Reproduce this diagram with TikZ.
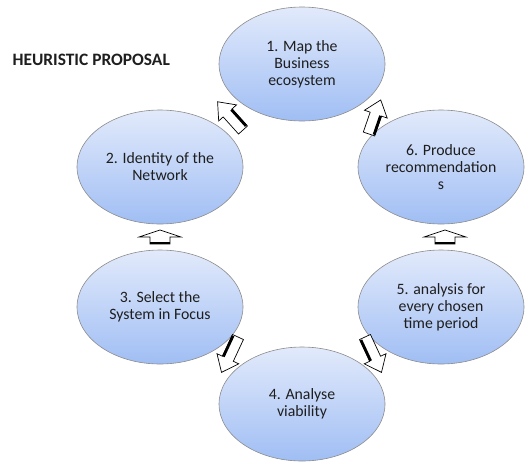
\documentclass[tikz,border=0pt]{standalone}
\usepackage{fontspec}
\setmainfont{Carlito}
\usetikzlibrary{shapes.geometric}
\definecolor{ellTop}{RGB}{226,234,251}
\definecolor{ellBot}{RGB}{160,190,244}
\definecolor{ellLine}{RGB}{140,140,140}
\definecolor{txt}{RGB}{30,30,30}
\tikzset{
  stage/.style={ellipse, draw=ellLine, line width=0.6pt, top color=ellTop, bottom color=ellBot,
    minimum width=166pt, minimum height=114pt, inner sep=0pt, align=center,
    font=\fontsize{15.8}{17}\selectfont, text=txt},
  arrowbody/.style={draw=black, fill=white, line width=0.7pt, line join=miter},
  thickedge/.style={line width=2.8pt, line cap=butt},
  pics/barrow/.style={code={
    \draw[arrowbody] (0,-6) -- ({#1-15},-6) -- ({#1-15},-12) -- (#1,0) -- ({#1-15},12) -- ({#1-15},6) -- (0,6) -- cycle;
    \draw[thickedge] (1,5) -- ({#1-15},5);
  }},
  pics/uparrow/.style={code={
    \draw[arrowbody] (0,0) -- (21,7) -- (10,7) -- (10,14) -- (-10,14) -- (-10,7) -- (-21,7) -- cycle;
    \draw[thickedge] (-10,13) -- (10,13);
  }}
}
\begin{document}
\begin{tikzpicture}[x=1pt,y=-1pt]
\useasboundingbox (0,0) rectangle (526,461);
\node[anchor=west, font=\bfseries\fontsize{17.4}{20}\selectfont, text=txt] (title) at (9,60) {HEURISTIC PROPOSAL};
\node[stage] (n1) at (302,64) {1. Map the\\Business\\ecosystem};
\node[stage] (n2) at (160,167) {2. Identity of the\\Network};
\node[stage] (n3) at (160,307) {3. Select the\\System in Focus};
\node[stage] (n4) at (302,404) {4. Analyse\\viability};
\node[stage] (n5) at (441,307) {5. analysis for\\every chosen\\time period};
\node[stage] (n6) at (441,167) {6. Produce\\recommendation\\s};
\coordinate (a21) at (243,130);
\coordinate (a61) at (369,134);
\coordinate (a32) at (160,230);
\coordinate (a56) at (445,230);
\coordinate (a34) at (238,337);
\coordinate (a54) at (365,337);
\pic[rotate=132] at (a21) {barrow=38};
\pic[rotate=71] at (a61) {barrow=36};
\pic at (a32) {uparrow};
\pic at (a56) {uparrow};
\pic[rotate=245] at (a34) {barrow=39};
\pic[rotate=-65] at (a54) {barrow=39};
\end{tikzpicture}
\end{document}
